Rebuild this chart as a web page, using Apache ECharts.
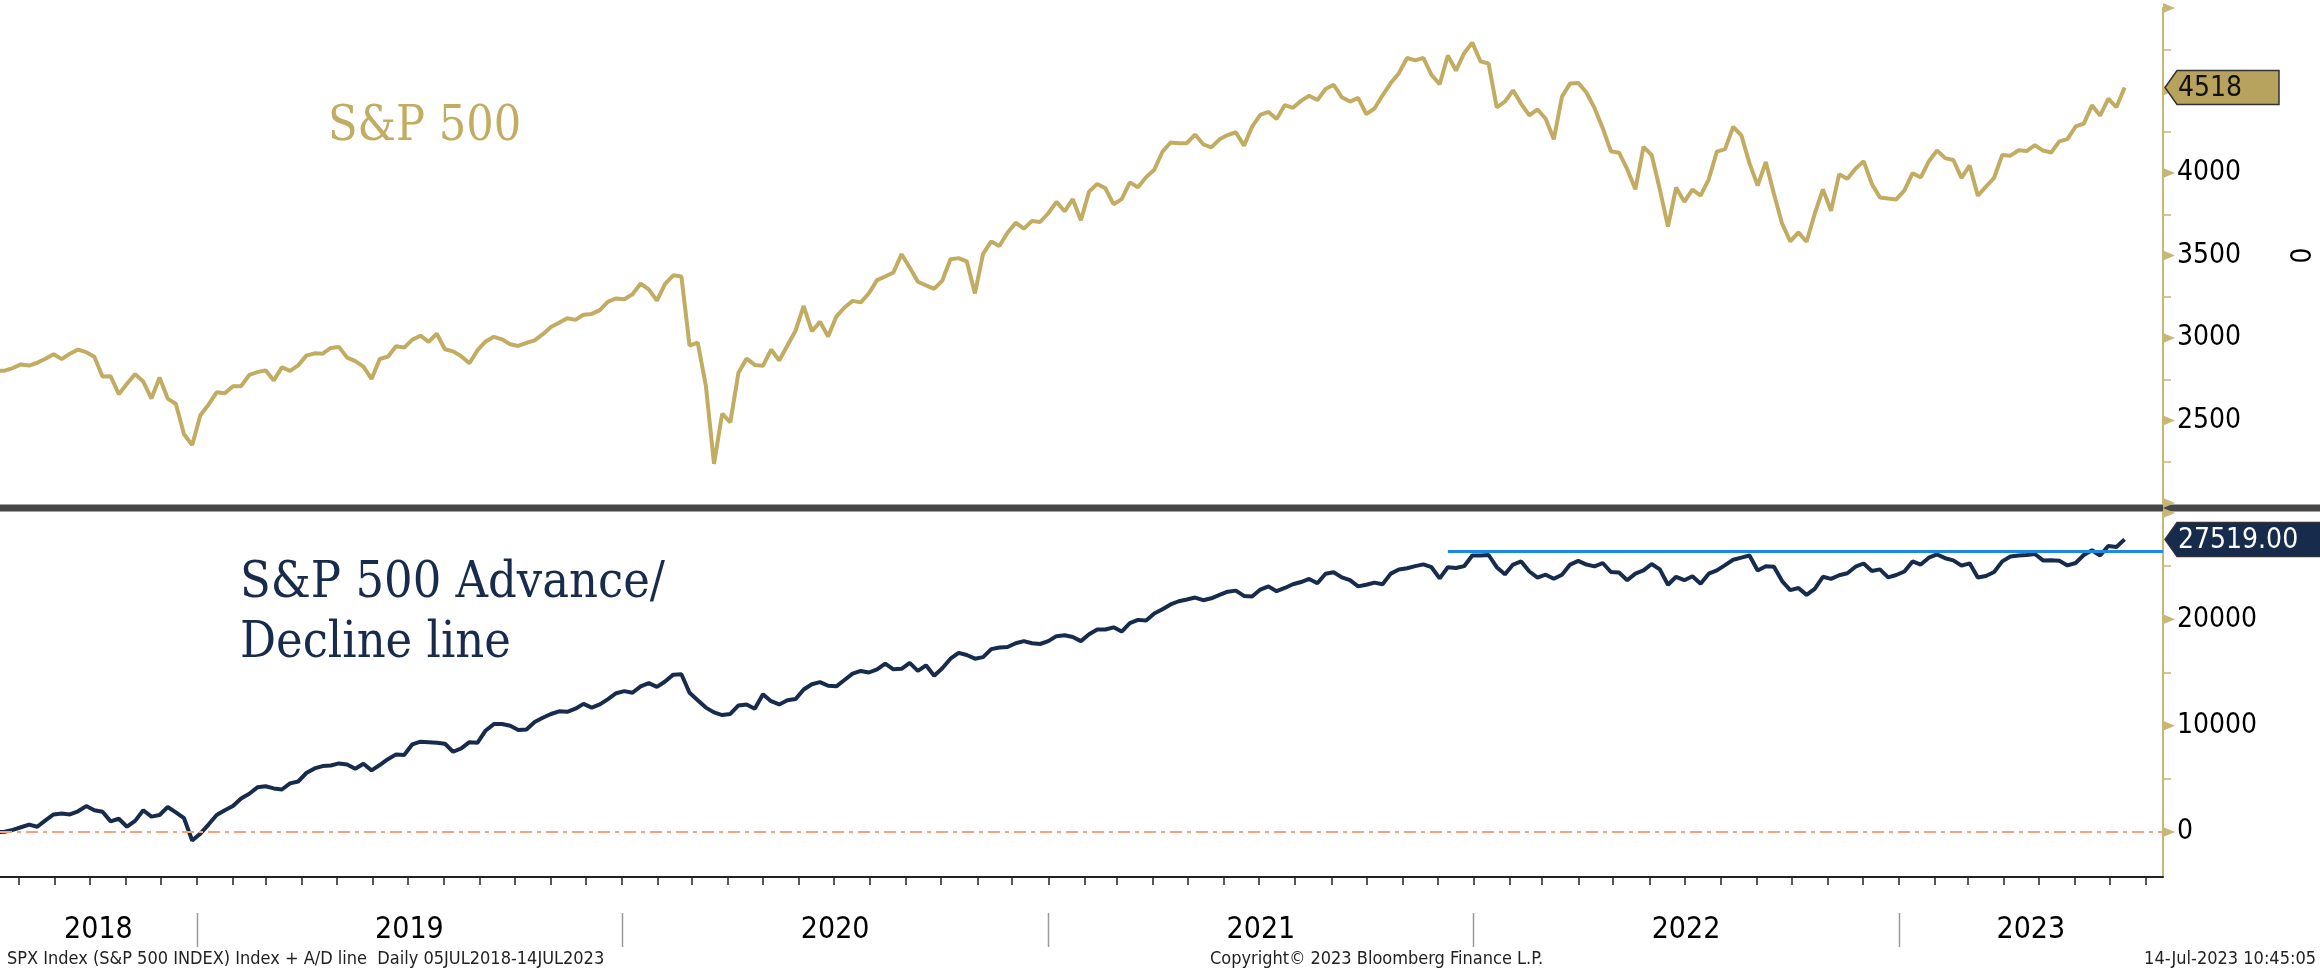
<!DOCTYPE html>
<html>
<head>
<meta charset="utf-8">
<title>S&P 500 and Advance/Decline line</title>
<script src="https://cdn.jsdelivr.net/npm/echarts@6/dist/echarts.min.js"></script>
<style>
  html, body { margin: 0; padding: 0; background: #fff; }
  #chart { width: 2320px; height: 970px; }
</style>
</head>
<body>
<div id="chart"></div>
<script>
// weekly closes (Fridays)
const spx2018 = [2760, 2801, 2802, 2818, 2840, 2833, 2850, 2874, 2902, 2872, 2905, 2930, 2914, 2886, 2767, 2768, 2659, 2723, 2781, 2736, 2633, 2760, 2633, 2600, 2417, 2351]
const spx2019 = [2532, 2596, 2671, 2665, 2707, 2708, 2776, 2793, 2804, 2743, 2822, 2801, 2834, 2893, 2907, 2905, 2940, 2946, 2881, 2860, 2826, 2752, 2873, 2887, 2950, 2942, 2990, 3014, 2977, 3026, 2932, 2919, 2889, 2847, 2926, 2979, 3007, 2992, 2962, 2952, 2970, 2986, 3023, 3067, 3093, 3120, 3110, 3141, 3146, 3169, 3221, 3240]
const spx2020 = [3235, 3265, 3330, 3295, 3226, 3328, 3380, 3373, 2954, 2972, 2711, 2237, 2541, 2489, 2790, 2875, 2837, 2831, 2930, 2864, 2955, 3044, 3194, 3041, 3098, 3009, 3130, 3185, 3225, 3216, 3271, 3351, 3373, 3397, 3508, 3427, 3341, 3319, 3298, 3348, 3477, 3484, 3465, 3270, 3510, 3585, 3558, 3638, 3699, 3663, 3709, 3703, 3756]
const spx2021 = [3825, 3768, 3841, 3714, 3887, 3934, 3907, 3811, 3842, 3943, 3913, 3975, 4020, 4129, 4185, 4180, 4181, 4233, 4174, 4156, 4204, 4230, 4247, 4166, 4281, 4352, 4370, 4327, 4412, 4395, 4437, 4468, 4442, 4509, 4535, 4459, 4433, 4455, 4357, 4391, 4471, 4545, 4605, 4697, 4683, 4698, 4595, 4538, 4712, 4621, 4726, 4790]
const spx2022 = [4677, 4663, 4398, 4432, 4501, 4419, 4349, 4385, 4329, 4204, 4463, 4543, 4546, 4488, 4393, 4272, 4132, 4123, 4023, 3901, 4158, 4109, 3901, 3675, 3912, 3825, 3899, 3863, 3962, 4130, 4145, 4280, 4228, 4058, 3924, 4067, 3873, 3693, 3586, 3640, 3583, 3753, 3901, 3771, 3993, 3965, 4026, 4072, 3934, 3852, 3845, 3840]
const spx2023 = [3895, 3999, 3973, 4071, 4136, 4090, 4079, 3970, 4046, 3862, 3917, 3971, 4109, 4105, 4138, 4133, 4169, 4136, 4124, 4192, 4205, 4282, 4299, 4410, 4348, 4450, 4399, 4518]

const ad2018 = [-100, 0, 30, 200, 450, 700, 500, 1100, 1650, 1750, 1650, 1950, 2440, 2050, 1900, 1000, 1250, 500, 1050, 2050, 1450, 1600, 2350, 1850, 1300, -800]
const ad2019 = [-150, 700, 1600, 2050, 2450, 3160, 3600, 4200, 4300, 4100, 4000, 4570, 4750, 5550, 5980, 6200, 6260, 6450, 6350, 5950, 6420, 5800, 6300, 6850, 7300, 7250, 8250, 8500, 8450, 8400, 8300, 7550, 7860, 8450, 8400, 9550, 10150, 10150, 10000, 9600, 9650, 10350, 10740, 11100, 11350, 11300, 11600, 12050, 11700, 12000, 12500, 13050]
const ad2020 = [13250, 13100, 13700, 14000, 13650, 14150, 14800, 14840, 13100, 12400, 11700, 11250, 11000, 11100, 11900, 12000, 11600, 12960, 12300, 12000, 12400, 12500, 13400, 13900, 14100, 13750, 13700, 14300, 14900, 15150, 15000, 15300, 15840, 15300, 15350, 15900, 15150, 15680, 14700, 15400, 16300, 16850, 16650, 16300, 16450, 17200, 17350, 17400, 17750, 17950, 17750, 17680, 17950]
const ad2021 = [18420, 18500, 18340, 17950, 18600, 19050, 19050, 19250, 18850, 19650, 19950, 19900, 20550, 20950, 21400, 21700, 21870, 22050, 21800, 21980, 22300, 22600, 22700, 22200, 22150, 22800, 23100, 22650, 22950, 23300, 23510, 23800, 23400, 24290, 24430, 23950, 23680, 23100, 23250, 23450, 23300, 24300, 24680, 24800, 25000, 25170, 24900, 23850, 24900, 24830, 25000, 26010]
const ad2022 = [26000, 26050, 24900, 24230, 25150, 25450, 24500, 23930, 24200, 23820, 24200, 25150, 25500, 25150, 24980, 25300, 24450, 24400, 23680, 24300, 24600, 25200, 24700, 23250, 24000, 23680, 24050, 23350, 24290, 24600, 25100, 25600, 25800, 26000, 24600, 25000, 24950, 23600, 22750, 22950, 22300, 22870, 24000, 23800, 24150, 24330, 24950, 25250, 24550, 24700, 23950, 24170]
const ad2023 = [24500, 25450, 25150, 25800, 26100, 25750, 25550, 25050, 25270, 23930, 24080, 24450, 25450, 25900, 26010, 26050, 26150, 25540, 25550, 25500, 25070, 25300, 26050, 26500, 26000, 26900, 26800, 27519]

const yearLabels = ['2018', '2019', '2020', '2021', '2022', '2023']
const topLabelTicks = [2500, 3000, 3500, 4000]
const topMajorTicks = [2000, 2500, 3000, 3500, 4000, 4500, 5000]
const topMinorTicks = [2250, 2750, 3250, 3750, 4250, 4750]
const bottomLabelTicks = [0, 10000, 20000]
const bottomMajorTicks = [0, 10000, 20000, 30000]
const bottomMinorTicks = [5000, 15000, 25000]
const resistanceLevel = 26420
const resistanceStart = '2021-12-10'
const lastSpxLabel = '4518'
const lastAdLabel = '27519.00'

const spxValues = [].concat(spx2018, spx2019, spx2020, spx2021, spx2022, spx2023)
const adValues = [].concat(ad2018, ad2019, ad2020, ad2021, ad2022, ad2023)
// one date per week, first Friday 06JUL2018
const weekDates = spxValues.map((v, i) => Date.UTC(2018, 6, 6 + 7 * i))

const xMin = Date.UTC(2018, 6, 16)
const xMax = Date.UTC(2023, 7, 16)
const monthTicks = []
for (let y = 2018; y <= 2023; y++) {
  for (let m = 0; m < 12; m++) {
    const t = Date.UTC(y, m, 1)
    if (t > xMin && t < xMax) monthTicks.push(t)
  }
}

const GOLD = '#C2AC62'
const AXIS_GOLD = '#C8B676'
const NAVY = '#172B4D'
const LABEL_FONT = '"DejaVu Sans Condensed", "Liberation Sans Narrow", "DejaVu Sans", sans-serif'
const TITLE_FONT = '"DejaVu Serif Condensed", "DejaVu Serif", serif'

const chart = echarts.init(document.getElementById('chart'))

const option = {
  animation: false,
  backgroundColor: '#fff',
  grid: [
    { left: 0, right: 157, top: 8, height: 495 },
    { left: 0, right: 157, top: 513, height: 364 }
  ],
  xAxis: [
    { type: 'time', gridIndex: 0, min: xMin, max: xMax, show: false },
    {
      type: 'time',
      gridIndex: 1,
      min: xMin,
      max: xMax,
      axisLine: { show: true, onZero: false, lineStyle: { color: '#222', width: 2 } },
      axisTick: { show: true, length: 8, customValues: monthTicks, lineStyle: { color: '#222', width: 1.5 } },
      axisLabel: { show: false },
      splitLine: { show: false }
    }
  ],
  yAxis: [
    {
      type: 'value',
      gridIndex: 0,
      position: 'right',
      min: 2000,
      max: 5000,
      axisLine: { show: true, onZero: false, lineStyle: { color: AXIS_GOLD, width: 2 } },
      axisTick: { show: true, length: 8, customValues: topMinorTicks, lineStyle: { color: AXIS_GOLD, width: 1.5 } },
      axisLabel: { customValues: topLabelTicks, formatter: v => String(v), margin: 14, color: '#000', fontSize: 28, fontFamily: LABEL_FONT },
      splitLine: { show: false }
    },
    {
      type: 'value',
      gridIndex: 1,
      position: 'right',
      min: -4230,
      max: 30000,
      axisLine: { show: true, onZero: false, lineStyle: { color: AXIS_GOLD, width: 2 } },
      axisTick: { show: true, length: 8, customValues: bottomMinorTicks, lineStyle: { color: AXIS_GOLD, width: 1.5 } },
      axisLabel: { customValues: bottomLabelTicks, formatter: v => String(v), margin: 14, color: '#000', fontSize: 28, fontFamily: LABEL_FONT },
      splitLine: { show: false }
    }
  ],
  series: [
    {
      name: 'S&P 500',
      type: 'line',
      xAxisIndex: 0,
      yAxisIndex: 0,
      data: weekDates.map((d, i) => [d, spxValues[i]]),
      showSymbol: false,
      lineStyle: { color: GOLD, width: 4 },
      itemStyle: { color: GOLD }
    },
    {
      name: 'A/D line',
      type: 'line',
      xAxisIndex: 1,
      yAxisIndex: 1,
      data: weekDates.map((d, i) => [d, adValues[i]]),
      showSymbol: false,
      lineStyle: { color: NAVY, width: 4 },
      itemStyle: { color: NAVY },
      markLine: {
        silent: true,
        symbol: 'none',
        label: { show: false },
        data: [
          { yAxis: 0, lineStyle: { color: '#F7A27E', width: 2, type: [12, 5, 4, 5] } },
          [
            { coord: [resistanceStart, resistanceLevel], lineStyle: { color: '#1E88E5', width: 3, type: 'solid' } },
            { coord: [xMax, resistanceLevel] }
          ]
        ]
      }
    }
  ]
}

chart.setOption(option)

// decorations placed through the axes
const axisX = chart.convertToPixel({ xAxisIndex: 1 }, xMax)
const yTop = v => chart.convertToPixel({ yAxisIndex: 0 }, v)
const yBot = v => chart.convertToPixel({ yAxisIndex: 1 }, v)
const xAt = t => chart.convertToPixel({ xAxisIndex: 1 }, t)
const axisBottom = yBot(-4230)

const graphics = []

// divider between panels
const divMid = (yTop(2000) + yBot(30000)) / 2
graphics.push({ type: 'rect', z: 5, shape: { x: 0, y: divMid - 3.5, width: 2320, height: 7 }, style: { fill: '#474747' } })

function tri(y) {
  return { type: 'polygon', z: 10, shape: { points: [[axisX, y - 5], [axisX + 12, y], [axisX, y + 5]] }, style: { fill: AXIS_GOLD } }
}
topMajorTicks.forEach(v => graphics.push(tri(yTop(v))))
bottomMajorTicks.forEach(v => graphics.push(tri(yBot(v))))

function tag(y, text, fill, textColor, width) {
  const x0 = axisX + 2
  graphics.push({
    type: 'polygon', z: 20,
    shape: { points: [[x0, y], [x0 + 12, y - 17], [x0 + 12 + width, y - 17], [x0 + 12 + width, y + 17], [x0 + 12, y + 17]] },
    style: { fill: fill, stroke: '#333', lineWidth: 1.5 }
  })
  graphics.push({
    type: 'text', z: 21, x: x0 + 13, y: y + 1,
    style: { text: text, fill: textColor, font: '28px ' + LABEL_FONT, align: 'left', verticalAlign: 'middle' }
  })
}
tag(yTop(spxValues[spxValues.length - 1]), lastSpxLabel, '#B7A25E', '#111', 102)
tag(yBot(adValues[adValues.length - 1]), lastAdLabel, NAVY, '#fff', 170)

// year bands under the x axis
yearLabels.forEach((label, k) => {
  const yr = 2018 + k
  const a = Math.max(xMin, Date.UTC(yr, 0, 1))
  const b = Math.min(xMax, Date.UTC(yr + 1, 0, 1))
  graphics.push({
    type: 'text', x: (xAt(a) + xAt(b)) / 2, y: axisBottom + 53,
    style: { text: label, fill: '#000', font: '30px ' + LABEL_FONT, align: 'center', verticalAlign: 'middle' }
  })
  if (k > 0) {
    const sx = Math.round(xAt(a)) + 0.5
    graphics.push({ type: 'line', shape: { x1: sx, y1: axisBottom + 36, x2: sx, y2: axisBottom + 70 }, style: { stroke: '#9a9a9a', lineWidth: 1.5 } })
  }
})

// footer
const footFont = '18px ' + LABEL_FONT
graphics.push({ type: 'text', x: 7, y: 959, style: { text: 'SPX Index (S&P 500 INDEX) Index + A/D line  Daily 05JUL2018-14JUL2023', fill: '#222', font: footFont, verticalAlign: 'middle' } })
graphics.push({ type: 'text', x: 1210, y: 959, style: { text: 'Copyright\u00a9 2023 Bloomberg Finance L.P.', fill: '#222', font: footFont, verticalAlign: 'middle' } })
graphics.push({ type: 'text', x: 2316, y: 959, style: { text: '14-Jul-2023 10:45:05', fill: '#222', font: footFont, align: 'right', verticalAlign: 'middle' } })

// panel titles
graphics.push({ type: 'text', x: 328, y: 128, style: { text: 'S&P 500', fill: GOLD, font: '48px ' + TITLE_FONT, verticalAlign: 'middle' } })
graphics.push({ type: 'text', x: 240, y: 584, style: { text: 'S&P 500 Advance/', fill: NAVY, font: '50px ' + TITLE_FONT, verticalAlign: 'middle' } })
graphics.push({ type: 'text', x: 240, y: 644, style: { text: 'Decline line', fill: NAVY, font: '50px ' + TITLE_FONT, verticalAlign: 'middle' } })

// rotated axis name
graphics.push({ type: 'text', x: 2297, y: yTop(3500), rotation: -Math.PI / 2, style: { text: '0', fill: '#000', font: '28px ' + LABEL_FONT, align: 'center', verticalAlign: 'middle' } })

chart.setOption({ graphic: graphics })
</script>
</body>
</html>
